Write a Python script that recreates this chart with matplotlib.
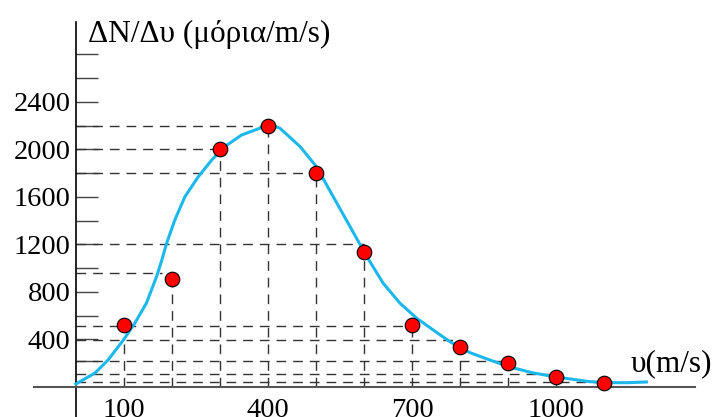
import numpy as np
from matplotlib import pyplot as plt

plt.rcParams['font.family'] = ['Liberation Serif', 'DejaVu Serif']

# measured points (red dots)
v_pts = [100, 200, 300, 400, 500, 600, 700, 800, 900, 1000, 1100]
n_pts = [520, 910, 2000, 2200, 1800, 1140, 520, 337, 202, 84, 36]

# fitted curve
v_curve = [0, 40, 67, 99, 123, 147, 168, 179, 189, 206, 227, 255, 283, 310,
           345, 387, 415, 425, 467, 501, 536, 571, 606, 640, 675, 710, 744,
           779, 820, 862, 904, 950, 1000, 1069, 1110, 1150, 1188]
n_curve = [25, 118, 227, 396, 539, 707, 929, 1069, 1210, 1406, 1602, 1771,
           1912, 2024, 2122, 2185, 2195, 2179, 2024, 1855, 1602, 1350, 1097,
           873, 705, 578, 480, 381, 290, 227, 168, 120, 84, 45, 36, 36, 42]

# dashed guide lines
h_y = [2200, 2000, 1800, 1200, 960, 514, 396, 219, 110, 42]
h_end = [400, 300, 500, 600, 180, 700, 800, 900, 1000, 1100]
v_x = [100, 200, 300, 400, 500, 600, 700, 800, 900, 1000, 1100]
v_top = [396, 900, 2000, 2200, 1800, 1200, 514, 337, 202, 84, 36]

y_major = [400, 800, 1200, 1600, 2000, 2400]
y_minor = [220, 600, 1000, 1400, 1800, 2200, 2600, 2800]
x_labels = [100, 400, 700, 1000]

fig = plt.figure(figsize=(7.16, 4.17), dpi=100)
ax = fig.add_axes([0, 0, 1, 1])
ax.set_xlim(-158, 1333)
ax.set_ylim(-253, 3259)

dash = (0, (7, 5))
ax.hlines(h_y, 0, h_end, colors='#333333', linewidth=1.0, linestyles=[dash])
ax.vlines(v_x, 0, v_top, colors='#333333', linewidth=1.0, linestyles=[dash])

ax.plot(v_curve, n_curve, color='#1cb8ec', linewidth=2.2, zorder=3,
        solid_joinstyle='round')
ax.plot(v_pts, n_pts, 'o', color='#ff0000', markeredgecolor='black',
        markeredgewidth=0.8, markersize=10.5, zorder=4)

# axes through the origin
for s in ['top', 'right']:
    ax.spines[s].set_visible(False)
ax.spines['left'].set_position(('data', 0))
ax.spines['bottom'].set_position(('data', 0))
ax.spines['left'].set_bounds(-253, 3074)
ax.spines['bottom'].set_bounds(-88, 1290)
ax.spines['left'].set_linewidth(1.2)
ax.spines['bottom'].set_linewidth(1.5)
ax.spines['bottom'].set_color('#555555')

ax.set_yticks(y_major)
ax.set_yticks(y_minor, minor=True)
ax.tick_params(axis='y', which='both', direction='in', length=16, width=1.0,
               color='#444444', pad=4, labelsize=20.5)
ax.set_xticks(x_labels)
ax.tick_params(axis='x', length=0, pad=8, labelsize=20.5)

ax.text(25, 2968, 'ΔN/Δυ (μόρια/m/s)', fontsize=22.5, va='center')
ax.text(1325, 194, 'υ(m/s)', fontsize=22.5, ha='right', va='center')

fig.savefig('out.png', dpi=100)
